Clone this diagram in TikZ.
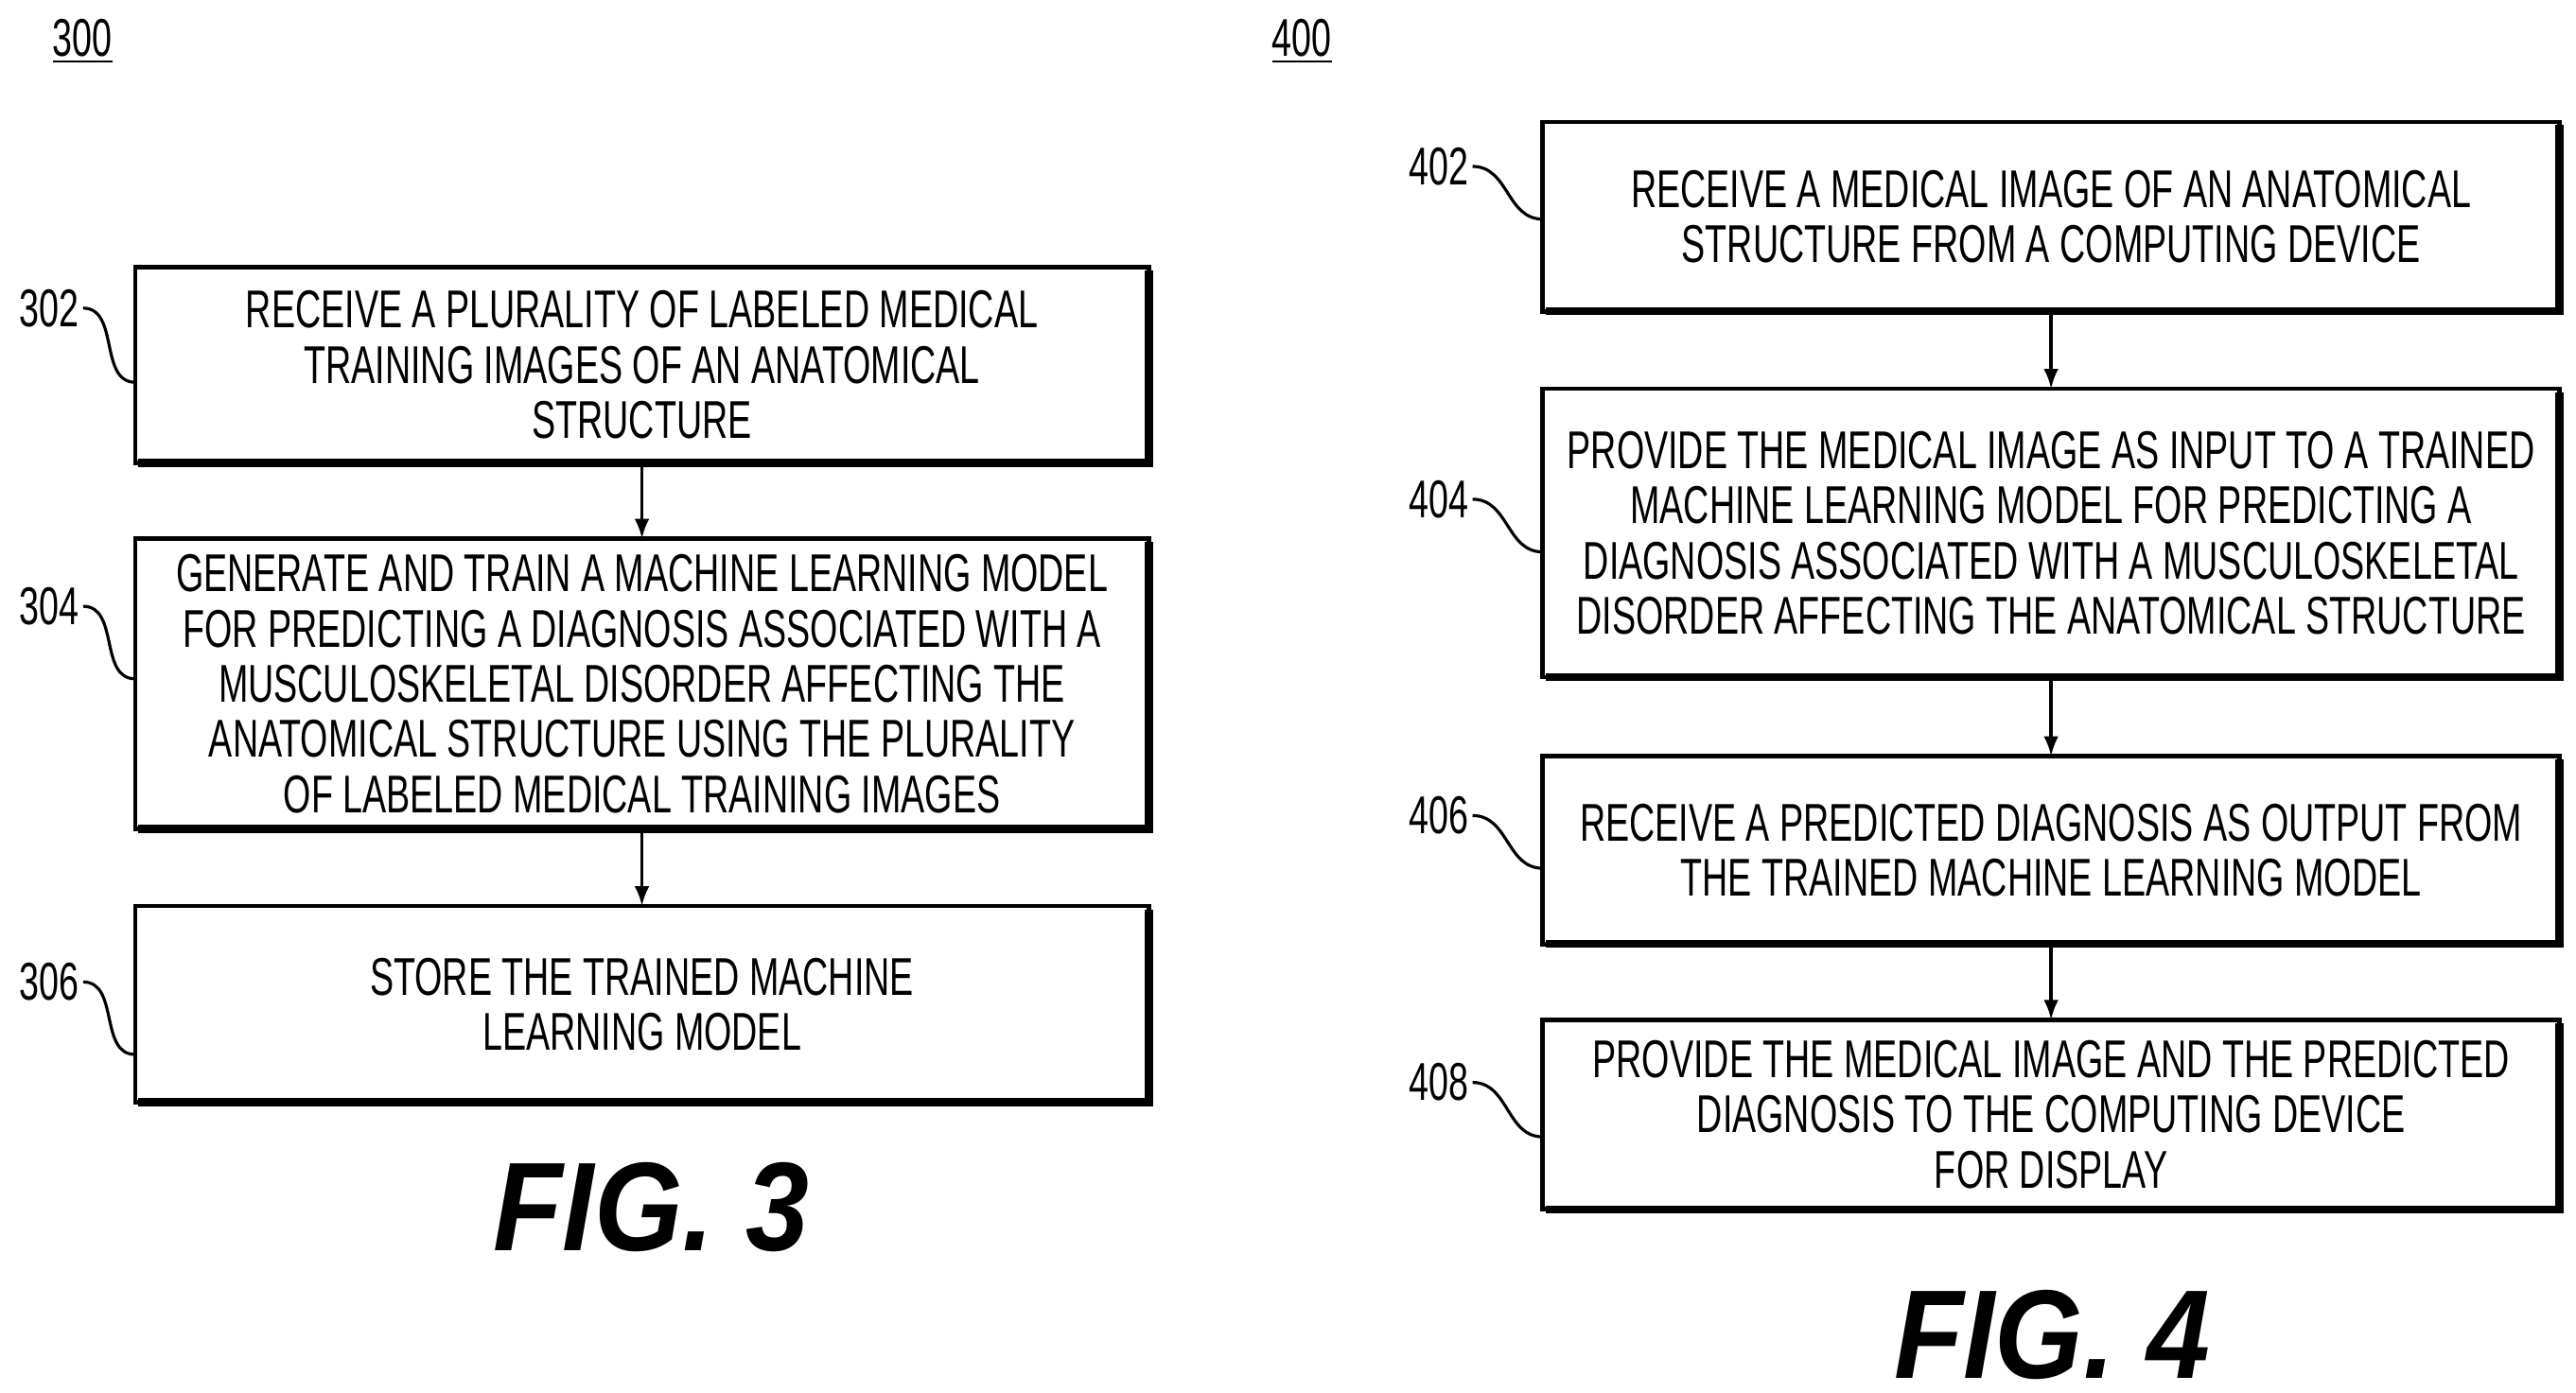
\documentclass[tikz,border=0pt]{standalone}
\usepackage{fontspec}
\usetikzlibrary{arrows.meta}
\setmainfont{Liberation Sans}[FakeStretch=0.67]
\newfontfamily\figfont{Liberation Sans}[FakeStretch=0.9]
\begin{document}
\begin{tikzpicture}[x=0.01742cm,y=-0.01742cm,
  lbl/.style={font=\fontsize{16}{16}\selectfont,inner sep=1pt},
  lead/.style={line width=0.9pt},
  arr/.style={-{Latex[length=6pt,width=4.5pt]},line width=1pt}]
\useasboundingbox (0,0) rectangle (1563,845);
\newcommand{\mybox}[6]{% name x1 y1 x2 y2 text
  \draw[line width=1.3pt] (#2,#3) rectangle (#4,#5);
  \draw[line width=2.4pt] (#2+2,#5) -- (#4,#5) -- (#4,#3+2);
  \node[align=center,font=\fontsize{16}{16.6}\selectfont] (#1) at ({(#2+#4)/2},{(#3+#5)/2}) {#6};
  \coordinate (#1w) at (#2,{(#3+#5)/2});
  \coordinate (#1n) at ({(#2+#4)/2},#3);
  \coordinate (#1s) at ({(#2+#4)/2},#5);}
\mybox{b302}{82}{162}{697}{281}{RECEIVE A PLURALITY OF LABELED MEDICAL\\TRAINING IMAGES OF AN ANATOMICAL\\STRUCTURE}
\mybox{b304}{82}{327}{697}{503}{GENERATE AND TRAIN A MACHINE LEARNING MODEL\\FOR PREDICTING A DIAGNOSIS ASSOCIATED WITH A\\MUSCULOSKELETAL DISORDER AFFECTING THE\\ANATOMICAL STRUCTURE USING THE PLURALITY\\OF LABELED MEDICAL TRAINING IMAGES}
\mybox{b306}{82}{550}{697}{669}{STORE THE TRAINED MACHINE\\LEARNING MODEL}
\mybox{b402}{936}{74}{1553}{189}{RECEIVE A MEDICAL IMAGE OF AN ANATOMICAL\\STRUCTURE FROM A COMPUTING DEVICE}
\mybox{b404}{936}{236}{1553}{411}{PROVIDE THE MEDICAL IMAGE AS INPUT TO A TRAINED\\MACHINE LEARNING MODEL FOR PREDICTING A\\DIAGNOSIS ASSOCIATED WITH A MUSCULOSKELETAL\\DISORDER AFFECTING THE ANATOMICAL STRUCTURE}
\mybox{b406}{936}{459}{1553}{573}{RECEIVE A PREDICTED DIAGNOSIS AS OUTPUT FROM\\THE TRAINED MACHINE LEARNING MODEL}
\mybox{b408}{936}{619}{1553}{734}{PROVIDE THE MEDICAL IMAGE AND THE PREDICTED\\DIAGNOSIS TO THE COMPUTING DEVICE\\FOR DISPLAY}
\draw[arr] (b302s) -- (b304n);
\draw[arr] (b304s) -- (b306n);
\draw[arr] (b402s) -- (b404n);
\draw[arr] (b404s) -- (b406n);
\draw[arr] (b406s) -- (b408n);
\node[lbl] (t300) at (50,25) {\underline{300}};
\node[lbl] (t400) at (790,25) {\underline{400}};
\foreach \n/\x/\y/\tx/\ty in {302/30/187/82/232, 304/30/368/82/412, 306/30/596/82/640,
  402/873/101/936/133, 404/873/303/936/335, 406/873/495/936/527, 408/873/657/936/690}{
  \node[lbl] (l\n) at (\x,\y) {\n};
  \coordinate (e\n) at (\tx,\ty);
  \draw[lead] (l\n.east) .. controls +(22,0) and +(-22,0) .. (e\n);
}
\node[font=\figfont\fontsize{38}{38}\selectfont\bfseries\itshape] (f3) at (395,733) {FIG. 3};
\node[font=\figfont\fontsize{38}{38}\selectfont\bfseries\itshape] (f4) at (1245,810) {FIG. 4};
\end{tikzpicture}
\end{document}
